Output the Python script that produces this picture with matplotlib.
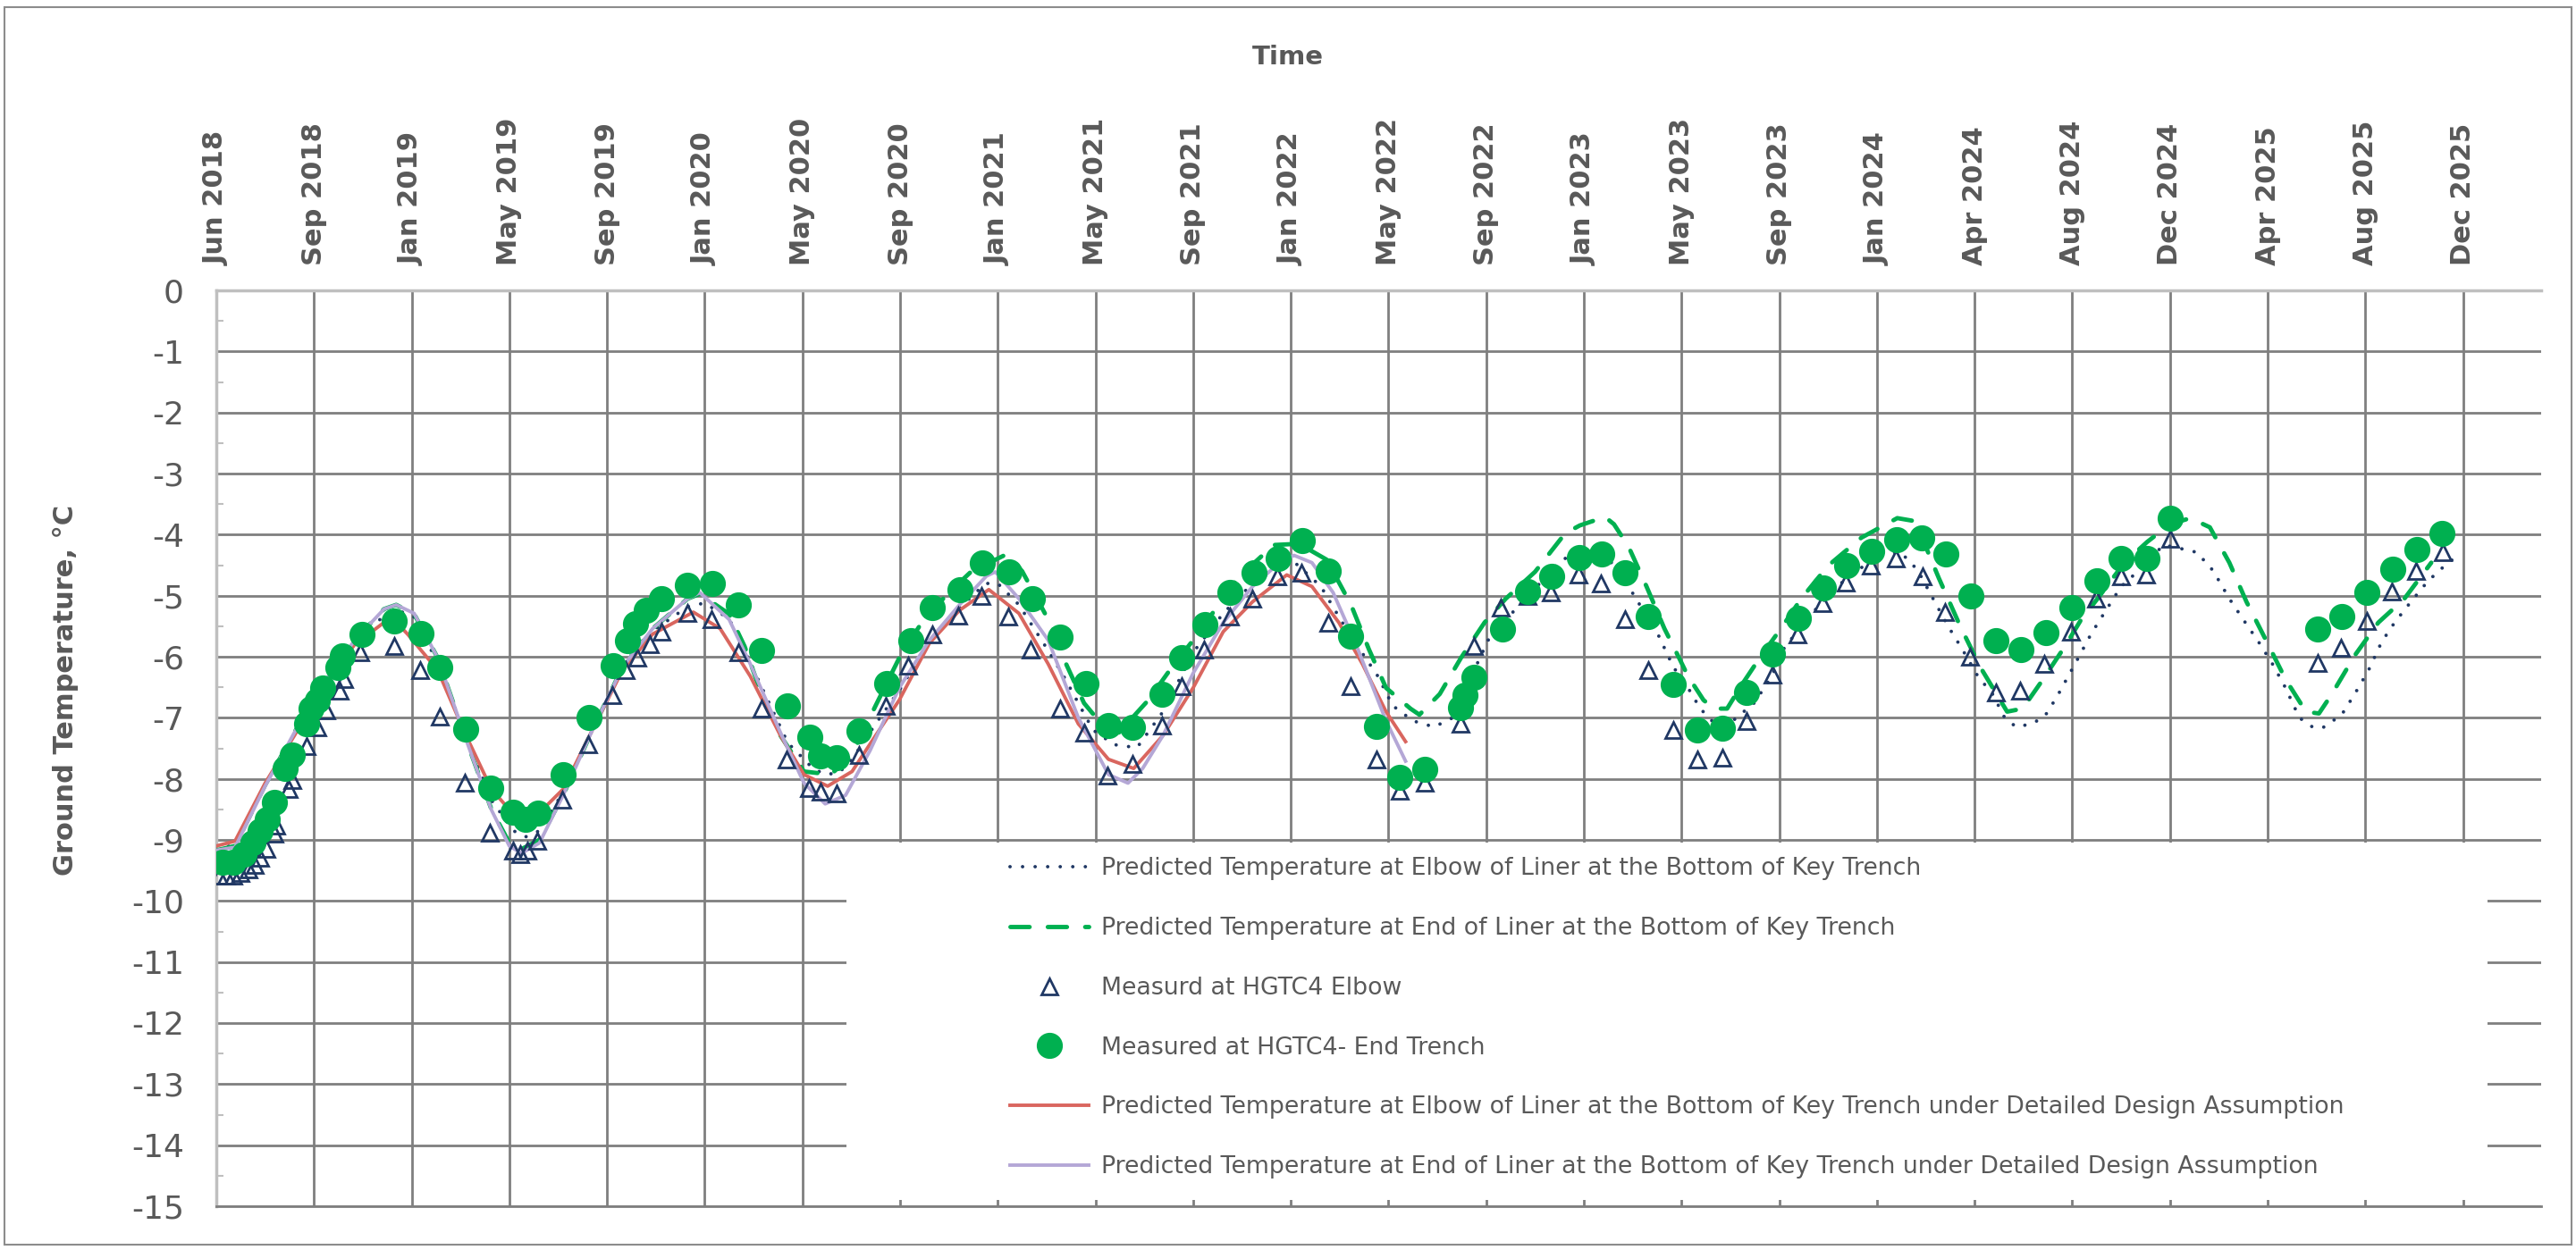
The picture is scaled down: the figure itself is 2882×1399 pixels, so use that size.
import numpy as np
import matplotlib.pyplot as plt
from matplotlib.patches import Rectangle

# x values are days since 1 Jun 2018
tick_labels = ['Jun 2018', 'Sep 2018', 'Jan 2019', 'May 2019', 'Sep 2019', 'Jan 2020',
               'May 2020', 'Sep 2020', 'Jan 2021', 'May 2021', 'Sep 2021', 'Jan 2022',
               'May 2022', 'Sep 2022', 'Jan 2023', 'May 2023', 'Sep 2023', 'Jan 2024',
               'Apr 2024', 'Aug 2024', 'Dec 2024', 'Apr 2025', 'Aug 2025', 'Dec 2025']
tick_step = 120  # days between labelled gridlines
x_max = 2856

# Predicted Temperature at Elbow of Liner (dotted)
elbow_days = [0, 23, 60, 96, 133, 170, 206, 225, 243, 272, 305, 338, 365, 380, 397, 426, 462, 499,
              536, 579, 600, 630, 656, 702, 733, 748, 765, 781, 810, 839, 876, 913, 945, 960, 986,
              1022, 1041, 1077, 1103, 1131, 1163, 1200, 1237, 1273, 1321, 1357, 1390, 1427, 1445,
              1470, 1496, 1522, 1547, 1566, 1595, 1653, 1680, 1700, 1717, 1735, 1772, 1790, 1808,
              1823, 1841, 1863, 1889, 1911, 1925, 1950, 1973, 1999, 2020, 2050, 2070, 2090, 2109,
              2127, 2145, 2164, 2182, 2197, 2211, 2230, 2246, 2261, 2275, 2289, 2303, 2319, 2340,
              2364, 2392, 2404, 2433, 2453, 2473, 2490, 2510, 2526, 2542, 2559, 2575, 2587, 2611,
              2627, 2644, 2660, 2676, 2696, 2717, 2735, 2747]
elbow_pred = [-9.15, -9.08, -8.10, -7.27, -6.44, -5.77, -5.33, -5.25, -5.35, -6.10, -7.25, -8.35,
              -8.85, -8.95, -8.85, -8.22, -7.20, -6.20, -5.58, -5.18, -5.12, -5.38, -6.10, -7.41,
              -7.83, -7.93, -7.90, -7.68, -7.10, -6.55, -5.75, -5.20, -4.80, -4.80, -5.15, -5.90,
              -6.32, -7.20, -7.44, -7.49, -6.90, -5.93, -5.29, -4.80, -4.41, -4.85, -5.59, -6.32,
              -6.80, -7.05, -7.15, -6.98, -6.17, -5.63, -5.24, -4.41, -4.28, -4.32, -4.49, -4.85,
              -5.66, -6.17, -6.51, -6.85, -7.10, -7.05, -6.76, -6.32, -5.88, -5.45, -5.10, -4.76,
              -4.55, -4.28, -4.30, -4.58, -5.05, -5.49, -5.88, -6.32, -6.61, -7.00, -7.15, -7.10,
              -6.98, -6.66, -6.32, -5.98, -5.63, -5.29, -4.85, -4.56, -4.17, -4.20, -4.29, -4.59,
              -5.05, -5.39, -5.78, -6.12, -6.51, -7.00, -7.15, -7.17, -6.95, -6.61, -6.22, -5.76,
              -5.44, -5.10, -4.76, -4.54, -4.41]

# Predicted Temperature at End of Liner (dashed)
end_days = [0, 23, 60, 96, 133, 170, 206, 221, 243, 272, 305, 338, 360, 375, 397, 426, 462, 499,
            536, 579, 594, 630, 649, 667, 693, 722, 755, 781, 810, 839, 869, 900, 927, 971, 990,
            1026, 1044, 1066, 1096, 1109, 1145, 1174, 1200, 1255, 1299, 1330, 1364, 1394, 1416,
            1437, 1467, 1478, 1503, 1529, 1558, 1584, 1620, 1657, 1675, 1706, 1717, 1735, 1757,
            1779, 1797, 1808, 1827, 1840, 1856, 1874, 1896, 1922, 1947, 1980, 2021, 2065, 2087,
            2116, 2142, 2167, 2200, 2219, 2242, 2271, 2291, 2311, 2344, 2372, 2400, 2425, 2449,
            2473, 2494, 2518, 2542, 2567, 2583, 2599, 2627, 2656, 2688, 2721]
end_pred = [-9.17, -9.10, -8.10, -7.24, -6.41, -5.73, -5.22, -5.15, -5.30, -6.02, -7.29, -8.50,
            -9.05, -9.15, -9.00, -8.27, -7.20, -6.17, -5.54, -5.05, -4.97, -5.30, -5.83, -6.51,
            -7.29, -7.88, -7.93, -7.60, -6.80, -6.02, -5.39, -4.95, -4.61, -4.32, -4.60, -5.49,
            -6.12, -6.76, -7.24, -7.24, -6.71, -6.17, -5.73, -4.71, -4.17, -4.15, -4.41, -5.15,
            -5.88, -6.51, -6.85, -6.95, -6.61, -6.02, -5.44, -5.05, -4.61, -3.98, -3.85, -3.71,
            -3.83, -4.20, -4.85, -5.54, -6.02, -6.32, -6.71, -6.85, -6.85, -6.46, -6.02, -5.54,
            -5.05, -4.51, -4.05, -3.73, -3.78, -4.71, -5.49, -6.17, -6.90, -6.85, -6.41, -5.83,
            -5.39, -5.05, -4.46, -4.12, -3.83, -3.73, -3.88, -4.46, -5.10, -5.73, -6.37, -6.90,
            -6.93, -6.61, -5.98, -5.44, -5.05, -4.46]

# Measurd at HGTC4 Elbow (triangles)
tri_days = [3, 12, 21, 30, 40, 47, 54, 62, 71, 74, 89, 93, 111, 124, 135, 151, 157, 177, 219, 250,
            274, 305, 336, 364, 373, 382, 394, 425, 457, 486, 503, 517, 532, 547, 579, 608, 641,
            670, 700, 728, 742, 762, 790, 822, 850, 879, 911, 940, 973, 1000, 1036, 1066, 1095,
            1125, 1162, 1186, 1213, 1245, 1273, 1303, 1333, 1366, 1393, 1425, 1454, 1485, 1529,
            1545, 1578, 1611, 1639, 1673, 1701, 1731, 1759, 1790, 1819, 1850, 1880, 1912, 1942,
            1973, 2002, 2033, 2063, 2096, 2124, 2154, 2186, 2216, 2246, 2278, 2309, 2340, 2371,
            2400, 2581, 2610, 2642, 2673, 2702, 2735]
tri_vals = [-9.59, -9.59, -9.58, -9.54, -9.49, -9.41, -9.29, -9.15, -8.90, -8.76, -8.17, -8.02,
            -7.46, -7.15, -6.88, -6.56, -6.37, -5.93, -5.83, -6.22, -6.98, -8.07, -8.88, -9.17,
            -9.24, -9.17, -9.01, -8.34, -7.44, -6.63, -6.22, -6.02, -5.80, -5.59, -5.29, -5.39,
            -5.93, -6.85, -7.68, -8.15, -8.21, -8.24, -7.61, -6.80, -6.15, -5.63, -5.32, -5.00,
            -5.34, -5.88, -6.85, -7.24, -7.95, -7.76, -7.12, -6.49, -5.88, -5.34, -5.05, -4.68,
            -4.63, -5.44, -6.49, -7.68, -8.20, -8.07, -7.10, -5.83, -5.20, -5.00, -4.95, -4.66,
            -4.80, -5.39, -6.22, -7.20, -7.68, -7.66, -7.05, -6.29, -5.63, -5.12, -4.78, -4.51,
            -4.39, -4.68, -5.27, -6.00, -6.59, -6.56, -6.12, -5.59, -5.05, -4.68, -4.66, -4.07,
            -6.10, -5.85, -5.41, -4.93, -4.59, -4.29]

# Measured at HGTC4- End Trench (circles)
dot_days = [8, 21, 34, 45, 54, 63, 71, 85, 93, 111, 116, 124, 131, 149, 155, 179, 219, 251, 275,
            306, 337, 365, 380, 395, 426, 458, 487, 505, 515, 528, 547, 579, 609, 641, 670, 702,
            729, 742, 762, 790, 823, 853, 880, 914, 941, 974, 1002, 1037, 1068, 1096, 1125, 1162,
            1186, 1214, 1245, 1275, 1304, 1334, 1366, 1393, 1425, 1454, 1485, 1529, 1534, 1545,
            1580, 1611, 1640, 1675, 1702, 1731, 1759, 1790, 1819, 1850, 1880, 1912, 1943, 1974,
            2003, 2034, 2064, 2095, 2125, 2155, 2186, 2217, 2248, 2279, 2310, 2340, 2372, 2400,
            2582, 2611, 2642, 2674, 2703, 2734]
dot_vals = [-9.37, -9.37, -9.24, -9.05, -8.85, -8.66, -8.39, -7.83, -7.61, -7.10, -6.85, -6.71,
            -6.51, -6.17, -5.98, -5.63, -5.41, -5.62, -6.18, -7.19, -8.15, -8.54, -8.66, -8.56,
            -7.93, -7.00, -6.15, -5.73, -5.46, -5.24, -5.05, -4.83, -4.80, -5.15, -5.90, -6.80,
            -7.32, -7.63, -7.66, -7.22, -6.44, -5.73, -5.20, -4.90, -4.46, -4.61, -5.05, -5.68,
            -6.44, -7.12, -7.15, -6.61, -6.02, -5.48, -4.95, -4.63, -4.39, -4.10, -4.59, -5.66,
            -7.14, -7.98, -7.85, -6.83, -6.63, -6.34, -5.54, -4.93, -4.68, -4.37, -4.32, -4.63,
            -5.34, -6.46, -7.20, -7.17, -6.59, -5.95, -5.37, -4.88, -4.51, -4.27, -4.08, -4.05,
            -4.32, -5.00, -5.73, -5.88, -5.61, -5.20, -4.76, -4.39, -4.39, -3.73, -5.54, -5.34,
            -4.95, -4.56, -4.24, -3.98]

# Detailed design assumption predictions (solid)
dd_elbow_days = [0, 23, 60, 96, 133, 170, 206, 220, 235, 272, 305, 338, 367, 389, 426, 462, 499,
                 536, 586, 619, 656, 693, 722, 751, 781, 810, 839, 876, 913, 949, 986, 1022, 1059,
                 1096, 1127, 1163, 1200, 1237, 1273, 1315, 1346, 1379, 1408, 1437, 1461]
dd_elbow_pred = [-9.10, -9.02, -8.07, -7.29, -6.46, -5.80, -5.44, -5.42, -5.63, -6.22, -7.24,
                 -8.17, -8.61, -8.66, -8.17, -7.20, -6.22, -5.63, -5.27, -5.54, -6.32, -7.29,
                 -7.93, -8.12, -7.88, -7.29, -6.71, -5.78, -5.24, -4.90, -5.29, -6.12, -7.10,
                 -7.68, -7.83, -7.29, -6.51, -5.59, -5.10, -4.66, -4.85, -5.44, -6.12, -6.90,
                 -7.39]
dd_end_days = [0, 23, 60, 96, 133, 170, 206, 221, 243, 272, 305, 338, 360, 375, 397, 426, 462, 499,
               536, 579, 594, 630, 656, 693, 722, 748, 773, 803, 839, 876, 913, 946, 957, 986, 1022,
               1059, 1096, 1120, 1138, 1163, 1200, 1237, 1273, 1306, 1324, 1346, 1372, 1401, 1437,
               1461]
dd_end_pred = [-9.17, -9.12, -8.12, -7.24, -6.41, -5.73, -5.22, -5.15, -5.29, -6.02, -7.29, -8.51,
               -9.10, -9.22, -9.05, -8.27, -7.20, -6.17, -5.54, -5.05, -4.95, -5.39, -6.12, -7.24,
               -8.07, -8.41, -8.27, -7.54, -6.51, -5.73, -5.15, -4.68, -4.61, -5.05, -5.73, -7.00,
               -7.93, -8.07, -7.83, -7.29, -6.27, -5.44, -4.85, -4.46, -4.34, -4.46, -4.95, -5.83,
               -7.05, -7.71]

labels = ['Predicted Temperature at Elbow of Liner at the Bottom of Key Trench',
          'Predicted Temperature at End of Liner at the Bottom of Key Trench',
          'Measurd at HGTC4 Elbow',
          'Measured at HGTC4- End Trench',
          'Predicted Temperature at Elbow of Liner at the Bottom of Key Trench under Detailed Design Assumption',
          'Predicted Temperature at End of Liner at the Bottom of Key Trench under Detailed Design Assumption']

navy = '#203864'
green = '#00B050'
red = '#D9665F'
purple = '#B4A7D6'
text_grey = '#595959'
grid_grey = '#7F7F7F'

W, H = 2882, 1399
fig = plt.figure(figsize=(W / 100, H / 100), dpi=100)
ax = fig.add_axes([242 / W, 49 / H, 2601 / W, 1025 / H])

h1, = ax.plot(elbow_days, elbow_pred, color=navy, lw=2.8, ls=(0, (0.01, 3.6)),
              dash_capstyle='round', zorder=3)
h2, = ax.plot(end_days, end_pred, color=green, lw=3.5, ls=(0, (4.4, 4.2)),
              dash_capstyle='round', zorder=3)
h5, = ax.plot(dd_elbow_days, dd_elbow_pred, color=red, lw=2.8, zorder=3)
h6, = ax.plot(dd_end_days, dd_end_pred, color=purple, lw=2.8, zorder=3)
h3, = ax.plot(tri_days, tri_vals, ls='none', marker='^', ms=13, mfc='none', mec=navy, mew=2,
              zorder=4)
h4, = ax.plot(dot_days, dot_vals, ls='none', marker='o', ms=20, mfc=green, mec=green, zorder=5)

ax.set_xlim(0, x_max)
ax.set_ylim(-15, 0)
ax.set_xticks(np.arange(len(tick_labels)) * tick_step)
ax.set_xticklabels(tick_labels, rotation=90, fontsize=22, fontweight='bold', color=text_grey)
ax.xaxis.tick_top()
ax.set_yticks(np.arange(-15, 1))
ax.set_yticklabels([str(v) for v in range(-15, 1)], fontsize=26, color=text_grey)
ax.set_yticks(np.arange(-14.5, 0, 1), minor=True)
ax.tick_params(axis='x', which='major', length=0, pad=20)
ax.tick_params(axis='y', which='major', length=0, pad=26)
ax.tick_params(axis='y', which='minor', direction='in', length=6, width=1.5, color='#BFBFBF')

ax.set_axisbelow(True)
ax.grid(True, which='major', color=grid_grey, lw=2.0)
for side in ['left', 'top']:
    ax.spines[side].set_color('#BFBFBF')
    ax.spines[side].set_linewidth(2.5)
ax.spines['right'].set_visible(False)
ax.spines['bottom'].set_color(grid_grey)
ax.spines['bottom'].set_linewidth(2.0)

# blank area behind the legend
ax.add_patch(Rectangle((0.271, 0.007), 0.706, 0.39, transform=ax.transAxes,
                       facecolor='white', edgecolor='none', zorder=1.5))
ax.legend([h1, h2, h3, h4, h5, h6], labels, loc='upper left', bbox_to_anchor=(0.3414, 0.381),
          frameon=False, fontsize=19.3, labelcolor=text_grey, handlelength=3.3,
          handletextpad=0.5, labelspacing=1.52, borderpad=0, borderaxespad=0, numpoints=1)

fig.text(1441 / W, 1 - 64 / H, 'Time', ha='center', va='center', fontsize=21,
         fontweight='bold', color=text_grey)
fig.text(74 / W, 1 - 772 / H, 'Ground Temperature, °C', rotation=90, ha='center', va='center',
         fontsize=22, fontweight='bold', color=text_grey)

fig.add_artist(Rectangle((5 / W, 6 / H), 2872 / W, 1385 / H, transform=fig.transFigure,
                         facecolor='none', edgecolor='#8C8C8C', lw=1.5))

plt.savefig('out.png', dpi=100)
